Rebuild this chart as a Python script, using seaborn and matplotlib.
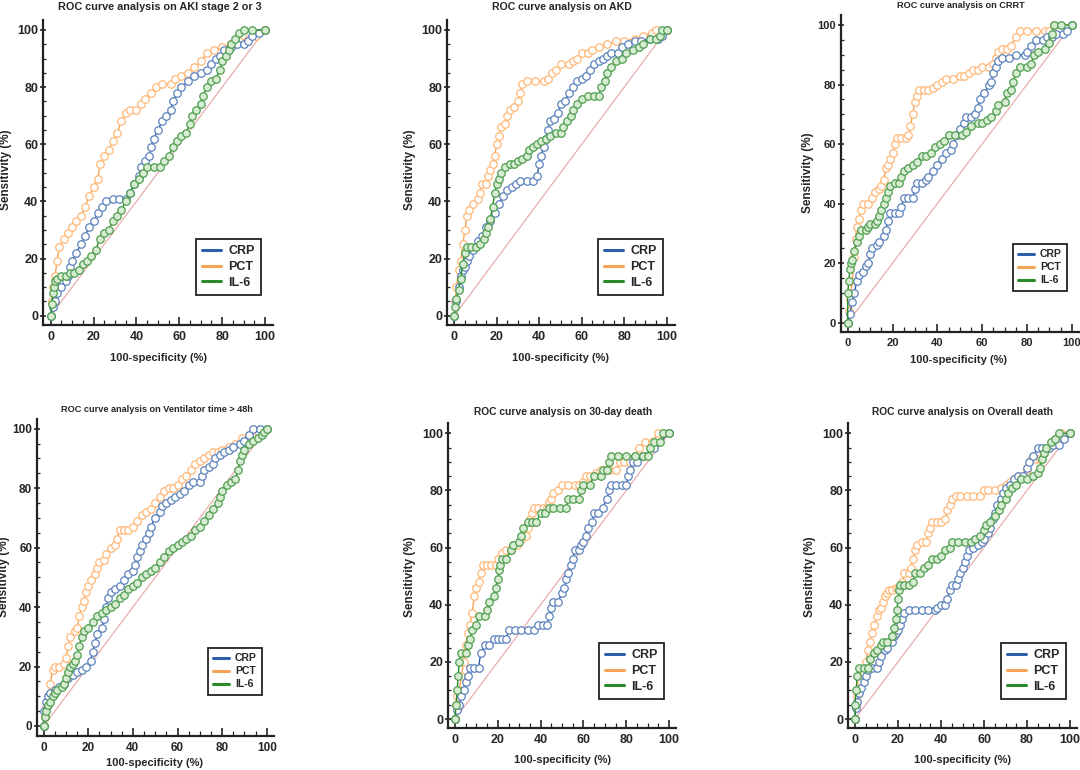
import numpy as np
import pandas as pd
import seaborn as sns
import matplotlib
matplotlib.use('Agg')
import matplotlib.pyplot as plt
from matplotlib.lines import Line2D

# ROC points (100-specificity, sensitivity)
aki_crp = [(0,0),(1,3),(2,5),(3,8),(5,10),(7,12),(8,14),(9,17),(10,19),(12,22),(14,25),(16,28),(18,31),(20,33),
           (22,36),(24,38),(26,40),(29,41),(32,41),(35,41),(37,43),(39,46),(41,49),(42,52),(44,54),(46,56),(47,59),
           (48,62),(50,65),(52,68),(54,70),(56,72),(57,75),(59,78),(61,80),(64,82),(67,84),(70,85),(73,86),(75,88),
           (77,90),(79,91),(81,93),(84,94),(87,95),(90,95),(92,96),(94,98),(97,99),(100,100)]
aki_pct = [(0,0),(0.5,5),(1,10),(2,14),(3,19),(4,24),(6,27),(8,29),(10,31),(12,33),(14,35),(16,38),(18,42),(20,45),
           (22,48),(23,53),(25,56),(27,58),(29,61),(31,64),(33,68),(35,71),(37,72),(40,72),(42,74),(44,76),(47,78),
           (49,80),(52,81),(56,81),(58,83),(61,84),(64,85),(67,87),(70,89),(73,92),(76,93),(80,94),(84,95),(88,96),
           (92,97),(96,98),(100,100)]
aki_il6 = [(0,0),(0.5,4),(1,8),(1.5,10),(2,12),(3,13),(5,14),(7,14),(9,15),(11,15),(13,16),(15,18),(17,19),(19,21),
           (21,23),(23,27),(25,29),(27,30),(29,33),(31,35),(33,37),(35,40),(37,43),(39,46),(41,48),(43,50),(45,52),
           (48,52),(51,52),(53,54),(55,56),(57,59),(59,61),(61,63),(63,64),(65,67),(66,70),(68,72),(70,74),(71,77),
           (73,80),(75,82),(77,83),(79,86),(80,89),(82,91),(83,93),(84,95),(86,97),(88,99),(90,100),(94,100),(100,100)]

akd_crp = [(0,0),(1,5),(2,10),(3,14),(4,16),(5,17),(6,19),(7,21),(9,23),(11,26),(13,28),(15,31),(17,33),(19,36),
           (21,39),(23,42),(25,44),(27,45),(29,46),(31,47),(34,47),(37,47),(39,49),(40,53),(41,56),(42,59),(43,62),
           (44,65),(45,68),(47,69),(49,71),(50,74),(52,75),(54,78),(56,80),(58,82),(60,83),(62,84),(64,86),(66,88),
           (68,89),(70,90),(72,91),(74,92),(77,92),(79,94),(82,95),(85,96),(88,96),(92,97),(96,97),(98,98),(100,100)]
akd_pct = [(0,0),(0.5,5),(1,10),(2,16),(3,19),(4,25),(5,30),(6,35),(7,37),(9,39),(11,41),(12,43),(13,46),(15,46),
           (16,49),(17,51),(18,53),(19,56),(20,60),(21,63),(22,66),(24,67),(25,70),(26,72),(28,73),(30,75),(31,78),
           (32,81),(34,82),(38,82),(42,82),(44,83),(46,85),(48,86),(50,88),(54,88),(56,89),(58,90),(60,92),(63,92),
           (65,93),(68,94),(72,95),(76,96),(80,96),(85,97),(89,98),(93,99),(95,100),(100,100)]
akd_il6 = [(0,0),(0.5,3),(1,6),(2,9),(3,13),(4,18),(5,22),(6,24),(8,24),(10,24),(12,25),(14,27),(15,29),(16,31),
           (17,34),(18,38),(19,43),(20,46),(21,48),(22,50),(24,52),(26,53),(28,53),(30,54),(32,55),(34,56),(35,58),
           (37,59),(39,60),(41,61),(43,62),(45,63),(48,64),(50,64),(51,66),(53,68),(55,70),(56,72),(58,74),(60,76),
           (63,77),(66,77),(68,77),(69,80),(71,82),(72,85),(74,87),(76,89),(79,90),(81,92),(84,93),(87,94),(89,95),
           (92,97),(95,97),(97,98),(98,100),(100,100)]

crrt_crp = [(0,0),(1,3),(2,7),(3,10),(4,14),(5,16),(7,17),(8,19),(9,20),(10,23),(11,25),(13,26),(14,27),(16,29),
            (17,31),(18,34),(19,37),(21,37),(23,37),(24,39),(25,42),(27,42),(29,42),(30,45),(31,47),(33,47),(35,48),
            (36,49),(38,51),(40,53),(42,55),(44,57),(46,58),(47,60),(49,63),(50,65),(52,67),(53,69),(55,69),(57,70),
            (58,72),(59,75),(61,77),(63,80),(64,81),(65,84),(66,86),(67,88),(69,89),(72,89),(75,90),(79,90),(80,91),
            (82,93),(84,95),(87,95),(89,96),(91,96),(93,97),(96,97),(98,98),(100,100)]
crrt_pct = [(0,0),(0.5,4),(1,8),(2,14),(3,22),(3.5,28),(4,32),(5,35),(6,38),(7,40),(9,40),(11,42),(12,44),(14,45),
            (15,46),(16,48),(17,52),(18,53),(19,55),(20,57),(21,60),(22,62),(24,62),(26,62),(27,63),(28,66),(29,70),
            (30,74),(31,76),(32,78),(34,78),(36,78),(38,79),(40,80),(42,81),(44,82),(47,82),(50,83),(52,83),(54,84),
            (56,85),(58,85),(60,86),(63,86),(65,87),(66,89),(67,91),(69,92),(71,92),(73,93),(75,96),(77,98),(80,98),
            (84,98),(88,98),(90,98),(92,100),(100,100)]
crrt_il6 = [(0,0),(0,10),(0.5,14),(1,18),(1.5,20),(2,21),(3,24),(4,27),(5,29),(6,31),(8,31),(9,32),(10,33),(12,33),
            (13,34),(14,36),(15,38),(16,40),(17,42),(18,44),(19,46),(21,47),(23,47),(24,49),(25,51),(27,52),(29,53),
            (31,54),(33,56),(35,56),(37,57),(39,59),(41,60),(43,61),(45,63),(48,63),(51,63),(53,64),(55,66),(58,67),
            (60,67),(62,68),(64,69),(66,71),(67,73),(70,74),(71,77),(73,78),(74,81),(75,84),(77,86),(80,86),(82,87),
            (83,90),(85,91),(88,92),(90,94),(91,97),(92,100),(95,100),(100,100)]

vent_crp = [(0,0),(0,5),(1,8),(2,10),(3,11),(5,12),(7,13),(9,14),(11,16),(13,17),(15,18),(17,19),(19,20),(21,22),
            (22,25),(23,28),(24,31),(26,33),(27,36),(28,40),(29,43),(30,45),(32,46),(34,47),(36,49),(38,51),(40,52),
            (41,54),(42,57),(43,59),(44,61),(46,63),(47,65),(48,67),(50,70),(52,72),(53,74),(55,75),(57,76),(59,77),
            (61,78),(63,79),(65,81),(67,82),(70,82),(71,84),(72,86),(74,87),(76,88),(77,90),(79,91),(81,92),(83,93),
            (85,94),(88,95),(90,96),(92,98),(94,100),(97,100),(100,100)]
vent_pct = [(0,0),(0.5,3),(1,6),(2,10),(3,14),(4,19),(5,20),(7,20),(9,21),(10,23),(11,27),(12,30),(14,32),(15,33),
            (16,37),(17,40),(18,42),(19,45),(20,47),(21,49),(23,51),(24,53),(25,55),(27,56),(28,58),(30,60),(32,61),
            (33,63),(34,66),(36,66),(38,66),(40,67),(42,69),(44,71),(46,72),(48,73),(50,75),(52,77),(54,79),(56,80),
            (58,80),(60,81),(62,83),(64,84),(66,86),(68,88),(70,89),(72,90),(74,91),(76,92),(78,92),(80,93),(83,94),
            (86,95),(89,97),(92,98),(96,99),(100,100)]
vent_il6 = [(0,0),(0.5,3),(1,5),(2,7),(3,8),(4,10),(5,11),(6,12),(8,13),(9,14),(10,16),(11,18),(12,20),(13,21),
            (14,22),(15,24),(16,27),(17,30),(18,32),(20,33),(22,35),(24,37),(26,38),(28,39),(30,40),(32,41),(34,43),
            (36,44),(38,46),(40,47),(42,48),(44,50),(46,51),(48,52),(50,53),(52,55),(54,57),(56,59),(58,60),(60,61),
            (62,62),(64,63),(66,64),(68,66),(70,67),(72,69),(74,71),(76,73),(78,75),(79,77),(80,79),(82,81),(84,82),
            (86,83),(87,86),(88,89),(89,91),(90,93),(92,95),(94,96),(96,97),(98,98),(99,99),(100,100)]

d30_crp = [(0,0),(1,3),(2,5),(3,8),(4,10),(5,13),(6,15),(7,18),(9,18),(11,18),(12,23),(14,26),(16,26),(18,28),
           (20,28),(22,28),(24,28),(25,31),(28,31),(31,31),(34,31),(37,31),(39,33),(41,33),(43,33),(44,36),(45,39),
           (46,41),(48,41),(50,44),(51,46),(52,49),(53,51),(54,54),(55,56),(56,59),(58,59),(59,61),(60,62),(61,64),
           (62,67),(64,69),(65,72),(67,72),(69,74),(71,77),(72,80),(73,82),(75,82),(78,82),(80,82),(81,85),(82,87),
           (83,90),(85,90),(88,92),(93,95),(100,100)]
d30_pct = [(0,0),(0.5,5),(1,8),(2,10),(3,15),(4,20),(5,26),(6,30),(7,33),(8,37),(9,43),(10,46),(11,48),(12,51),
           (13,54),(15,54),(17,54),(19,54),(20,56),(22,58),(24,59),(26,59),(27,61),(29,61),(31,63),(33,64),(34,67),
           (35,70),(36,72),(37,74),(39,74),(41,74),(43,74),(44,76),(45,77),(46,79),(48,80),(50,82),(53,82),(56,82),
           (58,82),(60,83),(61,85),(63,85),(66,86),(68,87),(70,87),(72,87),(75,87),(77,90),(79,90),(82,90),(84,92),
           (86,95),(89,97),(92,97),(95,100),(100,100)]
d30_il6 = [(0,0),(0.5,5),(1,10),(1.5,15),(2,20),(3,23),(5,23),(6,26),(7,28),(8,31),(10,33),(11,36),(14,36),(15,38),
           (16,41),(18,43),(19,46),(20,49),(20.5,52),(21,54),(22,56),(24,56),(26,59),(27,61),(30,62),(31,64),(32,67),
           (34,69),(36,69),(38,69),(40,72),(42,72),(44,74),(46,74),(49,74),(52,74),(53,77),(55,77),(58,77),(59,80),
           (60,82),(63,82),(65,85),(68,85),(69,87),(71,87),(72,90),(73,92),(76,92),(80,92),(84,92),(88,92),(90,92),
           (91,95),(93,97),(96,97),(97,100),(100,100)]

all_crp = [(0,0),(0.5,4),(1,6),(2,9),(3,11),(4,13),(5,15),(6,17),(8,18),(10,18),(11,20),(12,22),(14,24),(15,25),
           (17,27),(18,29),(19,30),(20,31),(21,33),(22,35),(23,37),(25,38),(28,38),(31,38),(34,38),(37,38),(38,39),
           (40,40),(42,40),(43,42),(44,45),(45,47),(47,47),(48,49),(49,51),(50,53),(51,55),(52,57),(53,59),(55,60),
           (57,61),(59,62),(60,63),(62,65),(63,67),(64,70),(65,72),(66,75),(68,77),(69,79),(70,81),(72,82),(74,84),
           (76,85),(78,85),(80,88),(81,90),(83,92),(85,95),(87,95),(90,95),(92,96),(95,96),(97,98),(100,100)]
all_pct = [(0,0),(0.5,5),(1,8),(2,11),(3,13),(4,16),(5,20),(6,24),(7,27),(8,30),(9,33),(10,36),(11,38),(12,39),
           (13,41),(14,43),(15,44),(16,45),(17,45),(19,46),(20,46),(22,48),(23,51),(25,51),(26,53),(27,56),(28,59),
           (29,61),(31,62),(33,62),(34,65),(35,67),(36,69),(38,69),(40,69),(42,70),(43,73),(44,75),(45,77),(47,78),
           (49,78),(52,78),(55,78),(58,78),(60,80),(62,80),(65,80),(68,81),(70,82),(72,83),(74,84),(76,85),(78,85),
           (80,87),(82,91),(84,91),(86,91),(88,93),(90,95),(93,98),(96,100),(100,100)]
all_il6 = [(0,0),(0,5),(0.5,10),(1,15),(2,18),(4,18),(6,18),(7,21),(9,23),(10,24),(12,26),(13,27),(15,27),(17,29),
           (18,32),(19,35),(19.5,38),(20,42),(20.5,45),(21,47),(23,47),(25,47),(27,48),(28,51),(30,51),(32,53),
           (34,54),(36,56),(38,56),(40,57),(42,59),(44,60),(45,62),(48,62),(51,62),(54,62),(56,63),(58,64),(60,66),
           (61,68),(63,69),(65,71),(67,73),(68,75),(70,77),(71,79),(73,81),(75,82),(77,84),(80,84),(83,85),(85,86),
           (86,88),(87,91),(88,93),(89,95),(91,97),(93,98),(95,100),(100,100)]

titles = ['ROC curve analysis on AKI stage 2 or 3', 'ROC curve analysis on AKD', 'ROC curve analysis on CRRT',
          'ROC curve analysis on Ventilator time > 48h', 'ROC curve analysis on 30-day death',
          'ROC curve analysis on Overall death']
markers = ['CRP', 'PCT', 'IL-6']
curves = [[aki_crp, aki_pct, aki_il6], [akd_crp, akd_pct, akd_il6], [crrt_crp, crrt_pct, crrt_il6],
          [vent_crp, vent_pct, vent_il6], [d30_crp, d30_pct, d30_il6], [all_crp, all_pct, all_il6]]

# style per marker: line colour, marker edge, marker face
line_col = {'CRP': '#2f5fa8', 'PCT': '#f5a455', 'IL-6': '#2a8a2a'}
edge_col = {'CRP': '#5b82bd', 'PCT': '#ffb878', 'IL-6': '#4f9e4f'}
face_col = {'CRP': '#ffffff', 'PCT': '#ffffff', 'IL-6': '#d7ecd2'}
draw_order = ['PCT', 'CRP', 'IL-6']

# pixel layout measured on the 1080x770 reference:
# axes box (L, R, T, B), px of x=0/100, px of y=100/0, title / ylabel / xlabel centres,
# legend top-right corner, legend / title / tick font sizes
layout = [
    dict(box=(43, 273, 20, 325), xpx=(50.7, 265), ypx=(30, 315.7), title=(160, 7), ylab=(6, 170), xlab=(158, 358), leg=(261, 239), lsize=9, tsize=7.8, ksize=9),
    dict(box=(447, 675, 20, 325), xpx=(454.3, 666.7), ypx=(30, 315.7), title=(562, 7), ylab=(410, 170), xlab=(560, 358), leg=(663, 239), lsize=9, tsize=7.6, ksize=9),
    dict(box=(841, 1079, 15, 332), xpx=(847.7, 1071.7), ypx=(25, 322.7), title=(961, 5), ylab=(808, 173), xlab=(958, 360), leg=(1067, 244), lsize=7.5, tsize=6.6, ksize=8),
    dict(box=(37, 274, 419, 736), xpx=(43.7, 266.7), ypx=(428.7, 726), title=(157, 409), ylab=(4, 577), xlab=(155, 763), leg=(262, 648), lsize=7.5, tsize=6.6, ksize=8.5),
    dict(box=(448, 676, 423, 728), xpx=(455, 669), ypx=(433.3, 719), title=(563, 412), ylab=(410, 577), xlab=(563, 760), leg=(664, 643), lsize=9, tsize=7.4, ksize=9),
    dict(box=(848, 1077, 423, 728), xpx=(855, 1070), ypx=(433.3, 719), title=(963, 412), ylab=(810, 577), xlab=(962, 760), leg=(1066, 643), lsize=9, tsize=7.4, ksize=9),
]

sns.set_style('ticks')
plt.rcParams['font.family'] = ['Liberation Sans Narrow', 'Liberation Sans', 'DejaVu Sans']
plt.rcParams['font.weight'] = 'bold'

W, H = 1080, 770
fig = plt.figure(figsize=(W / 100, H / 100), dpi=100)

for i, lay in enumerate(layout):
    L, R, T, B = lay['box']
    ax = fig.add_axes([L / W, 1 - B / H, (R - L) / W, (B - T) / H])
    x0, x1 = lay['xpx']
    y1, y0 = lay['ypx']
    ax.set_xlim((L - x0) / (x1 - x0) * 100, (R - x0) / (x1 - x0) * 100)
    ax.set_ylim((y0 - B) / (y0 - y1) * 100, (y0 - T) / (y0 - y1) * 100)

    ax.plot([0, 100], [0, 100], color='#e9a3a3', lw=0.8, zorder=1)

    for name in draw_order:
        pts = curves[i][markers.index(name)]
        df = pd.DataFrame(pts, columns=['fpr', 'tpr'])
        sns.lineplot(data=df, x='fpr', y='tpr', ax=ax, estimator=None, sort=False,
                     color=line_col[name], lw=1.0, marker='o', markersize=5.4,
                     markerfacecolor=face_col[name], markeredgecolor=edge_col[name],
                     markeredgewidth=0.9, zorder=3)

    ax.set_xlabel('')
    ax.set_ylabel('')
    ax.set_xticks(np.arange(0, 101, 20))
    ax.set_yticks(np.arange(0, 101, 20))
    ax.set_xticks(np.arange(0, 101, 5), minor=True)
    ax.set_yticks(np.arange(0, 101, 5), minor=True)
    ax.tick_params(axis='x', which='major', direction='in', length=6, width=1.2, labelsize=lay['ksize'], pad=4)
    ax.tick_params(axis='x', which='minor', direction='in', length=3.5, width=0.9)
    ax.tick_params(axis='y', which='major', direction='inout', length=5, width=1.2, labelsize=lay['ksize'], pad=1)
    ax.tick_params(axis='y', which='minor', direction='in', length=2.5, width=0.9)
    for lbl in ax.get_xticklabels() + ax.get_yticklabels():
        lbl.set_fontweight('bold')
    sns.despine(ax=ax)
    for side in ['left', 'bottom']:
        ax.spines[side].set_linewidth(1.6)
        ax.spines[side].set_color('#222222')

    fig.text(lay['title'][0] / W, 1 - lay['title'][1] / H, titles[i], ha='center', va='center',
             fontsize=lay['tsize'], fontweight='bold')
    fig.text(lay['ylab'][0] / W, 1 - lay['ylab'][1] / H, 'Sensitivity (%)', ha='center', va='center',
             rotation=90, fontsize=8.5, fontweight='bold')
    fig.text(lay['xlab'][0] / W, 1 - lay['xlab'][1] / H, '100-specificity (%)', ha='center', va='center',
             fontsize=8, fontweight='bold')

    handles = [Line2D([], [], color=line_col[m], lw=2.2) for m in markers]
    leg = ax.legend(handles, markers, loc='upper right',
                    bbox_to_anchor=(lay['leg'][0] / W, 1 - lay['leg'][1] / H),
                    bbox_transform=fig.transFigure, borderaxespad=0, fancybox=False,
                    frameon=True, edgecolor='#222222', framealpha=1, handlelength=1.5,
                    handletextpad=0.6, labelspacing=0.3, borderpad=0.5,
                    prop={'size': lay['lsize'], 'weight': 'bold'})
    leg.get_frame().set_linewidth(1.3)

fig.savefig('out.png', dpi=100)
